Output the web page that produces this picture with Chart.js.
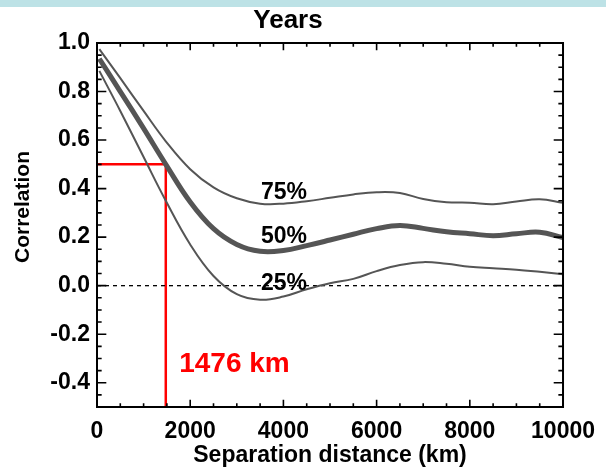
<!DOCTYPE html>
<html>
<head>
<meta charset="utf-8">
<script src="https://cdn.jsdelivr.net/npm/chart.js@4/dist/chart.umd.min.js"></script>
<style>
  html, body { margin: 0; padding: 0; background: #ffffff; }
  canvas { display: block; }
</style>
</head>
<body>
<canvas id="chart" width="606" height="471"></canvas>
<script>
// Separation distance (km) at which the correlation percentiles are sampled
const distanceKm = [50, 500, 1000, 1476, 2000, 2500, 3000, 3500, 4000, 4500, 5000,
                    5500, 6000, 6500, 7000, 7500, 8000, 8500, 9000, 9500, 10000];

// Correlation percentiles
const pct75 = [0.975, 0.855, 0.72, 0.595, 0.48, 0.405, 0.36, 0.338, 0.338, 0.348, 0.362,
               0.376, 0.385, 0.382, 0.357, 0.344, 0.342, 0.336, 0.347, 0.356, 0.342];
const pct50 = [0.935, 0.80, 0.648, 0.50, 0.345, 0.235, 0.170, 0.142, 0.145, 0.165, 0.188,
               0.212, 0.235, 0.248, 0.236, 0.222, 0.214, 0.206, 0.214, 0.220, 0.198];
const pct25 = [0.885, 0.72, 0.53, 0.35, 0.17, 0.04, -0.035, -0.058, -0.045, -0.015, 0.01,
               0.028, 0.06, 0.085, 0.097, 0.09, 0.078, 0.072, 0.066, 0.057, 0.047];

// Distance where the median correlation falls to 0.5
const halfCorr = 0.5;
const halfCorrKm = 1476;

// Axis ranges and tick labels
const xTicks = [0, 2000, 4000, 6000, 8000, 10000];
const yTicks = [-0.4, -0.2, 0.0, 0.2, 0.4, 0.6, 0.8, 1.0];
const xRange = [0, 10000];
const yRange = [-0.5, 1.0];

// Percentile labels: [text, distance, correlation at text baseline]
const curveLabels = [['75%', 3520, 0.357], ['50%', 3520, 0.176], ['25%', 3520, -0.018]];
const halfCorrLabel = ['1476 km', 1763, -0.354];

const FONT = '"Liberation Sans", Arial, Helvetica, sans-serif';
const CURVE = '#555555';

const toPts = (ys) => distanceKm.map((d, i) => ({ x: d, y: ys[i] }));

// Frame, inward tick marks and annotation text drawn on top of the plot
const framePlugin = {
  id: 'frame',
  beforeDraw(chart) {
    const ctx = chart.ctx;
    ctx.save();
    ctx.fillStyle = '#ffffff';
    ctx.fillRect(0, 0, chart.width, chart.height);
    ctx.fillStyle = '#bde2e6';
    ctx.fillRect(0, 0, chart.width, 7);
    ctx.restore();
  },
  afterDatasetsDraw(chart) {
    const { ctx, chartArea: { left, right, top, bottom }, scales: { x, y } } = chart;
    const w = right - left, h = bottom - top;
    ctx.save();
    ctx.strokeStyle = '#000000';
    ctx.lineWidth = 1.6;
    ctx.beginPath();
    for (let v = xRange[0]; v <= xRange[1]; v += 500) {
      const px = x.getPixelForValue(v);
      const len = (v % 2000 === 0) ? 0.02 * h : 0.01 * h;
      ctx.moveTo(px, bottom); ctx.lineTo(px, bottom - len);
      ctx.moveTo(px, top); ctx.lineTo(px, top + len);
    }
    for (let k = -10; k <= 20; k++) {
      const py = y.getPixelForValue(k * 0.05);
      const len = (k % 4 === 0) ? 0.02 * w : 0.01 * w;
      ctx.moveTo(left, py); ctx.lineTo(left + len, py);
      ctx.moveTo(right, py); ctx.lineTo(right - len, py);
    }
    ctx.stroke();
    ctx.lineWidth = 2;
    ctx.strokeRect(left, top, w, h);
    ctx.restore();
  },
  afterDraw(chart) {
    const { ctx, scales: { x, y } } = chart;
    ctx.save();
    ctx.fillStyle = '#000000';
    ctx.textBaseline = 'alphabetic';

    // Title
    ctx.font = `bold 26px ${FONT}`;
    ctx.textAlign = 'center';
    ctx.fillText('Years', 288, 28);

    // Y axis title
    ctx.save();
    ctx.font = `bold 21px ${FONT}`;
    ctx.translate(23, 207);
    ctx.rotate(-Math.PI / 2);
    ctx.textBaseline = 'middle';
    ctx.fillText('Correlation', 0, 0);
    ctx.restore();

    // Percentile labels
    ctx.font = `bold 23px ${FONT}`;
    ctx.textAlign = 'left';
    curveLabels.forEach(([t, d, c]) => {
      ctx.fillText(t, x.getPixelForValue(d), y.getPixelForValue(c));
    });

    // Half-correlation distance label
    ctx.fillStyle = '#ff0000';
    ctx.font = `bold 28px ${FONT}`;
    ctx.fillText(halfCorrLabel[0], x.getPixelForValue(halfCorrLabel[1]), y.getPixelForValue(halfCorrLabel[2]));
    ctx.restore();
  }
};

new Chart(document.getElementById('chart'), {
  type: 'line',
  data: {
    datasets: [
      { label: '75%', data: toPts(pct75), borderColor: CURVE, borderWidth: 2, tension: 0.4, pointRadius: 0 },
      { label: '50%', data: toPts(pct50), borderColor: CURVE, borderWidth: 5, tension: 0.4, pointRadius: 0 },
      { label: '25%', data: toPts(pct25), borderColor: CURVE, borderWidth: 2, tension: 0.4, pointRadius: 0 },
      { label: 'zero', data: [{ x: xRange[0], y: 0 }, { x: xRange[1], y: 0 }],
        borderColor: '#000000', borderWidth: 1.3, borderDash: [4, 4], pointRadius: 0 },
      { label: 'half', data: [{ x: xRange[0], y: halfCorr }, { x: halfCorrKm, y: halfCorr }, { x: halfCorrKm, y: yRange[0] }],
        borderColor: '#ff0000', borderWidth: 2.5, pointRadius: 0, tension: 0 }
    ]
  },
  options: {
    responsive: false,
    animation: false,
    parsing: false,
    layout: { padding: { top: 43, right: 40, left: 0, bottom: 0 } },
    plugins: { legend: { display: false }, title: { display: false }, tooltip: { enabled: false } },
    scales: {
      x: {
        type: 'linear', min: xRange[0], max: xRange[1],
        afterBuildTicks(s) { s.ticks = xTicks.map(v => ({ value: v })); },
        afterFit(s) { s.height = 64; },
        grid: { display: false, drawTicks: false },
        border: { display: false },
        ticks: { padding: 11, color: '#000000', autoSkip: false, maxRotation: 0,
                 font: { family: FONT, size: 23, weight: 'bold' }, callback: v => String(v) },
        title: { display: true, text: 'Separation distance (km)', color: '#000000',
                 font: { family: FONT, size: 23, weight: 'bold' }, padding: { top: 0, bottom: 2 } }
      },
      y: {
        type: 'linear', min: yRange[0], max: yRange[1],
        afterBuildTicks(s) { s.ticks = yTicks.map(v => ({ value: v })); },
        afterFit(s) { s.width = 97; },
        grid: { display: false, drawTicks: false },
        border: { display: false },
        ticks: { padding: 7, color: '#000000', autoSkip: false,
                 font: { family: FONT, size: 23, weight: 'bold' }, callback: v => v.toFixed(1) }
      }
    }
  },
  plugins: [framePlugin]
});
</script>
</body>
</html>
